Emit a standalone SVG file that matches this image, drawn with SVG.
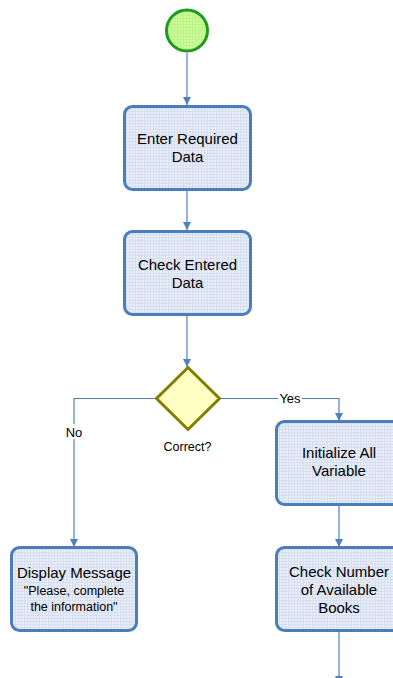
<svg xmlns="http://www.w3.org/2000/svg" width="393" height="678" viewBox="0 0 393 678">
<style>
.box{fill:url(#grid);stroke:#4a7ebb;stroke-width:3}
.t{font-family:"Liberation Sans",Arial,sans-serif;font-size:15px;fill:#000;text-anchor:middle}
.s{font-family:"Liberation Sans",Arial,sans-serif;font-size:12.5px;fill:#000;text-anchor:middle}
.l{font-family:"Liberation Sans",Arial,sans-serif;font-size:13px;fill:#000;text-anchor:middle}
.c{fill:none;stroke:#4f81bd;stroke-width:1.2}
</style>
<defs>
<pattern id="grid" width="3" height="3" patternUnits="userSpaceOnUse">
<rect width="3" height="3" fill="#e9eef8"/>
<path d="M0 0.5H3M0.5 0V3" stroke="#d6dff0" stroke-width="1"/>
</pattern>
<pattern id="ggrid" width="3" height="3" patternUnits="userSpaceOnUse">
<rect width="3" height="3" fill="#ccff99"/>
<path d="M0 0.5H3M0.5 0V3" stroke="#bdf28a" stroke-width="1"/>
</pattern>
<marker id="arr" markerWidth="8" markerHeight="8" refX="8" refY="4" orient="auto" markerUnits="userSpaceOnUse">
<path d="M0 0L8 4L0 8Z" fill="#4f81bd"/>
</marker>
</defs>
<g id="connectors">
<path class="c" d="M187 53V105" marker-end="url(#arr)"/>
<path class="c" d="M187 191V230" marker-end="url(#arr)"/>
<path class="c" d="M187 316V367" marker-end="url(#arr)"/>
<path class="c" d="M156 398.5H74V547" marker-end="url(#arr)"/>
<path class="c" d="M220 398.5H339V421" marker-end="url(#arr)"/>
<path class="c" d="M339 505V547" marker-end="url(#arr)"/>
<path class="c" d="M339 631V684" marker-end="url(#arr)"/>
<rect x="64" y="424" width="20" height="15" fill="#fff"/>
<text class="l" x="74" y="437">No</text>
<rect x="278" y="391" width="24" height="14" fill="#fff"/>
<text class="l" x="290" y="403">Yes</text>
</g>
<g id="start">
<circle cx="187" cy="30.5" r="20.5" fill="url(#ggrid)" stroke="#1f9a1f" stroke-width="3"/>
</g>
<g id="enter">
<rect class="box" x="124.5" y="106.5" width="126" height="83" rx="8"/>
<text class="t" x="187.5" y="144">Enter Required</text>
<text class="t" x="187.5" y="162">Data</text>
</g>
<g id="check">
<rect class="box" x="124.5" y="231.5" width="126" height="83" rx="8"/>
<text class="t" x="187.5" y="270">Check Entered</text>
<text class="t" x="187.5" y="288">Data</text>
</g>
<g id="decision">
<path d="M188 367.5L219.5 398.5L188 429.5L156.5 398.5Z" fill="#ffffc4" stroke="#808000" stroke-width="3"/>
<text class="s" x="187.5" y="451">Correct?</text>
</g>
<g id="display">
<rect class="box" x="11.5" y="547.5" width="125" height="83" rx="8"/>
<text class="t" x="74" y="578">Display Message</text>
<text class="s" x="74" y="595">"Please, complete</text>
<text class="s" x="74" y="611">the information"</text>
</g>
<g id="init">
<rect class="box" x="276.5" y="421.5" width="126" height="83" rx="8"/>
<text class="t" x="339" y="458">Initialize All</text>
<text class="t" x="339" y="476">Variable</text>
</g>
<g id="checknum">
<rect class="box" x="276.5" y="547.5" width="126" height="83" rx="8"/>
<text class="t" x="339" y="577">Check Number</text>
<text class="t" x="339" y="595">of Available</text>
<text class="t" x="339" y="613">Books</text>
</g>
</svg>
